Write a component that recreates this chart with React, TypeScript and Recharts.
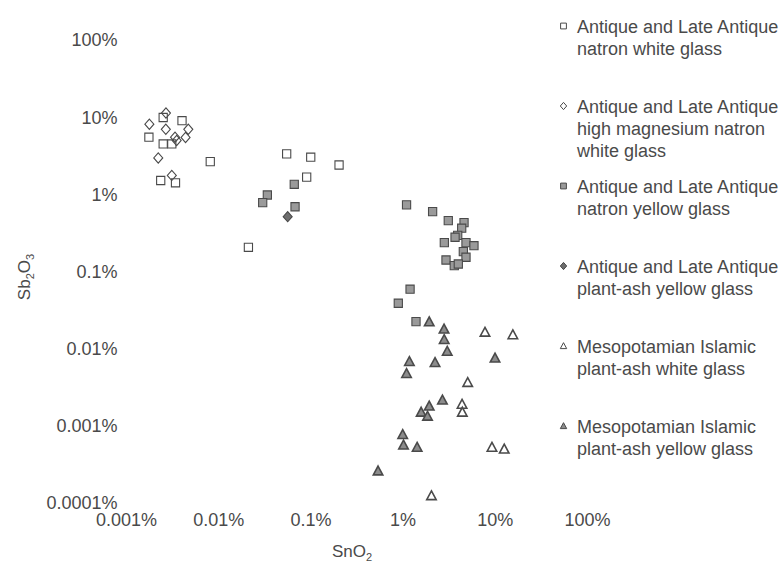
import React from "react";
import { ScatterChart, Scatter, XAxis, YAxis, Legend, Label } from "recharts";

type Pt = { sn: number; sb: number };

const xTicks = [0.001, 0.01, 0.1, 1, 10, 100];
const xTickLabels = ["0.001%", "0.01%", "0.1%", "1%", "10%", "100%"];
const yTicks = [0.0001, 0.001, 0.01, 0.1, 1, 10, 100];
const yTickLabels = ["0.0001%", "0.001%", "0.01%", "0.1%", "1%", "10%", "100%"];

const natronWhite: Pt[] = [
  { sn: 0.0025, sb: 9.9 }, { sn: 0.004, sb: 9.0 }, { sn: 0.00175, sb: 5.5 },
  { sn: 0.0025, sb: 4.5 }, { sn: 0.0031, sb: 4.5 }, { sn: 0.0081, sb: 2.65 },
  { sn: 0.00235, sb: 1.51 }, { sn: 0.0034, sb: 1.41 }, { sn: 0.0546, sb: 3.34 },
  { sn: 0.0996, sb: 3.03 }, { sn: 0.202, sb: 2.4 }, { sn: 0.09, sb: 1.67 },
  { sn: 0.021, sb: 0.206 },
];
const highMgWhite: Pt[] = [
  { sn: 0.00268, sb: 11.3 }, { sn: 0.00177, sb: 8.1 }, { sn: 0.00267, sb: 6.97 },
  { sn: 0.00468, sb: 6.97 }, { sn: 0.00336, sb: 5.5 }, { sn: 0.00437, sb: 5.46 },
  { sn: 0.0035, sb: 4.99 }, { sn: 0.00221, sb: 2.96 }, { sn: 0.0031, sb: 1.76 },
];
const natronYellow: Pt[] = [
  { sn: 0.066, sb: 1.35 }, { sn: 0.0337, sb: 0.98 }, { sn: 0.03, sb: 0.78 },
  { sn: 0.0673, sb: 0.69 }, { sn: 1.09, sb: 0.73 }, { sn: 2.09, sb: 0.597 },
  { sn: 3.09, sb: 0.456 }, { sn: 4.58, sb: 0.43 }, { sn: 4.32, sb: 0.364 },
  { sn: 3.91, sb: 0.294 }, { sn: 3.66, sb: 0.278 }, { sn: 2.8, sb: 0.237 },
  { sn: 4.81, sb: 0.237 }, { sn: 5.87, sb: 0.216 }, { sn: 4.5, sb: 0.181 },
  { sn: 4.81, sb: 0.153 }, { sn: 2.92, sb: 0.141 }, { sn: 3.59, sb: 0.119 },
  { sn: 3.97, sb: 0.125 }, { sn: 1.19, sb: 0.059 }, { sn: 0.887, sb: 0.0388 },
  { sn: 1.38, sb: 0.0224 },
];
const plantAshYellow: Pt[] = [{ sn: 0.056, sb: 0.514 }];
const mesoWhite: Pt[] = [
  { sn: 7.73, sb: 0.0163 }, { sn: 15.5, sb: 0.0151 }, { sn: 5.02, sb: 0.00364 },
  { sn: 4.36, sb: 0.0019 }, { sn: 4.39, sb: 0.0015 }, { sn: 9.2, sb: 0.000526 },
  { sn: 12.5, sb: 0.000499 }, { sn: 2.03, sb: 0.000124 },
];
const mesoYellow: Pt[] = [
  { sn: 1.92, sb: 0.0222 }, { sn: 2.78, sb: 0.0179 }, { sn: 2.79, sb: 0.0131 },
  { sn: 3.01, sb: 0.00923 }, { sn: 9.93, sb: 0.00753 }, { sn: 1.17, sb: 0.0068 },
  { sn: 2.22, sb: 0.0066 }, { sn: 1.09, sb: 0.00475 }, { sn: 2.67, sb: 0.00215 },
  { sn: 1.92, sb: 0.0018 }, { sn: 1.57, sb: 0.0015 }, { sn: 1.84, sb: 0.00133 },
  { sn: 0.99, sb: 0.00077 }, { sn: 1.01, sb: 0.000562 }, { sn: 1.42, sb: 0.000526 },
  { sn: 0.535, sb: 0.00026 },
];

const legendLines: string[][] = [
  ["Antique and Late Antique", "natron white glass"],
  ["Antique and Late Antique", "high magnesium natron", "white glass"],
  ["Antique and Late Antique", "natron yellow glass"],
  ["Antique and Late Antique", "plant-ash yellow glass"],
  ["Mesopotamian Islamic", "plant-ash white glass"],
  ["Mesopotamian Islamic", "plant-ash yellow glass"],
];

const FONT = "'Liberation Sans', Arial, sans-serif";
const STROKE = "#4a4a4a";
const TEXT = "#4a4a4a";

type Kind = "square" | "diamond" | "triangle";
const kinds: Kind[] = ["square", "diamond", "square", "diamond", "triangle", "triangle"];
const fills = ["none", "none", "#9a9a9a", "#6e6e6e", "none", "#8c8c8c"];

function markerPath(kind: Kind, cx: number, cy: number, s: number) {
  if (kind === "square") {
    return `M${cx - s},${cy - s}H${cx + s}V${cy + s}H${cx - s}Z`;
  }
  if (kind === "diamond") {
    const h = s * 1.25;
    const w = s * 1.1;
    return `M${cx},${cy - h}L${cx + w},${cy}L${cx},${cy + h}L${cx - w},${cy}Z`;
  }
  return `M${cx},${cy - s * 1.15}L${cx + s * 1.1},${cy + s * 0.9}L${cx - s * 1.1},${cy + s * 0.9}Z`;
}

const makeShape = (i: number) => (props: any) => {
  const { cx, cy } = props;
  if (cx == null || cy == null) return <g />;
  const k = kinds[i];
  const s = k === "triangle" ? 4.3 : 4.1;
  return (
    <path
      d={markerPath(k, cx, cy, s)}
      fill={fills[i] === "none" ? "none" : fills[i]}
      stroke={STROKE}
      strokeWidth={k === "triangle" ? 1.6 : 1.1}
    />
  );
};

const renderLegend = () => (
  <div style={{ position: "relative", width: 231, height: 470, fontFamily: FONT }}>
    {legendLines.map((lines, i) => (
      <div
        key={i}
        style={{ position: "absolute", left: 0, top: 15.5 + i * 80, display: "flex" }}
      >
        <svg width={21} height={22} style={{ flex: "none" }}>
          <path
            d={markerPath(kinds[i], 7.5, 10, 2.9)}
            fill={fills[i] === "none" ? "#fff" : fills[i]}
            stroke={STROKE}
            strokeWidth={1}
          />
        </svg>
        <div style={{ fontSize: 18, lineHeight: "22px", color: TEXT, whiteSpace: "nowrap" }}>
          {lines.map((l, j) => (
            <div key={j}>{l}</div>
          ))}
        </div>
      </div>
    ))}
  </div>
);

const series: { name: string; data: Pt[] }[] = [
  { name: legendLines[0].join(" "), data: natronWhite },
  { name: legendLines[1].join(" "), data: highMgWhite },
  { name: legendLines[2].join(" "), data: natronYellow },
  { name: legendLines[3].join(" "), data: plantAshYellow },
  { name: legendLines[4].join(" "), data: mesoWhite },
  { name: legendLines[5].join(" "), data: mesoYellow },
];

const XTitle = (props: any) => {
  const vb = props.viewBox || {};
  const cx = (vb.x ?? 126.5) + (vb.width ?? 461) / 2 - 5;
  return (
    <text x={cx} y={557} textAnchor="middle" fontFamily={FONT} fontSize={17} fill={TEXT}>
      SnO<tspan fontSize={11} dy={4}>2</tspan>
    </text>
  );
};

const YTitle = () => (
  <text
    transform="translate(30,277) rotate(-90)"
    textAnchor="middle"
    fontFamily={FONT}
    fontSize={17}
    fill={TEXT}
  >
    Sb<tspan fontSize={11} dy={4}>2</tspan>
    <tspan dy={-4}>O</tspan>
    <tspan fontSize={11} dy={4}>3</tspan>
  </text>
);

export default function App() {
  return (
    <div style={{ position: "absolute", left: 0, top: 0, width: 783, height: 577, background: "#fff" }}>
      <ScatterChart
        width={783}
        height={577}
        margin={{ top: 40, right: 195.5, bottom: 20, left: 26.5 }}
      >
        <XAxis
          type="number"
          dataKey="sn"
          scale="log"
          domain={[0.001, 100]}
          ticks={xTicks}
          allowDataOverflow
          axisLine={false}
          tickLine={false}
          tickSize={0}
          tickMargin={10}
          height={54}
          interval={0}
          tickFormatter={(v: number) => xTickLabels[xTicks.indexOf(v)] ?? String(v)}
          tick={{ fontFamily: FONT, fontSize: 18, fill: TEXT }}
        >
          <Label content={<XTitle />} />
        </XAxis>
        <YAxis
          type="number"
          dataKey="sb"
          scale="log"
          domain={[0.0001, 100]}
          ticks={yTicks}
          allowDataOverflow
          axisLine={false}
          tickLine={false}
          tickSize={0}
          tickMargin={9}
          width={100}
          interval={0}
          tickFormatter={(v: number) => yTickLabels[yTicks.indexOf(v)] ?? String(v)}
          tick={{ fontFamily: FONT, fontSize: 18, fill: TEXT }}
        >
          <Label content={<YTitle />} />
        </YAxis>
        <Legend
          layout="vertical"
          align="center"
          verticalAlign="middle"
          wrapperStyle={{ left: 556, top: 0, width: 231 }}
          content={renderLegend}
        />
        {series.map((s, i) => (
          <Scatter
            key={i}
            name={s.name}
            data={s.data}
            shape={makeShape(i)}
            isAnimationActive={false}
          />
        ))}
      </ScatterChart>
    </div>
  );
}
